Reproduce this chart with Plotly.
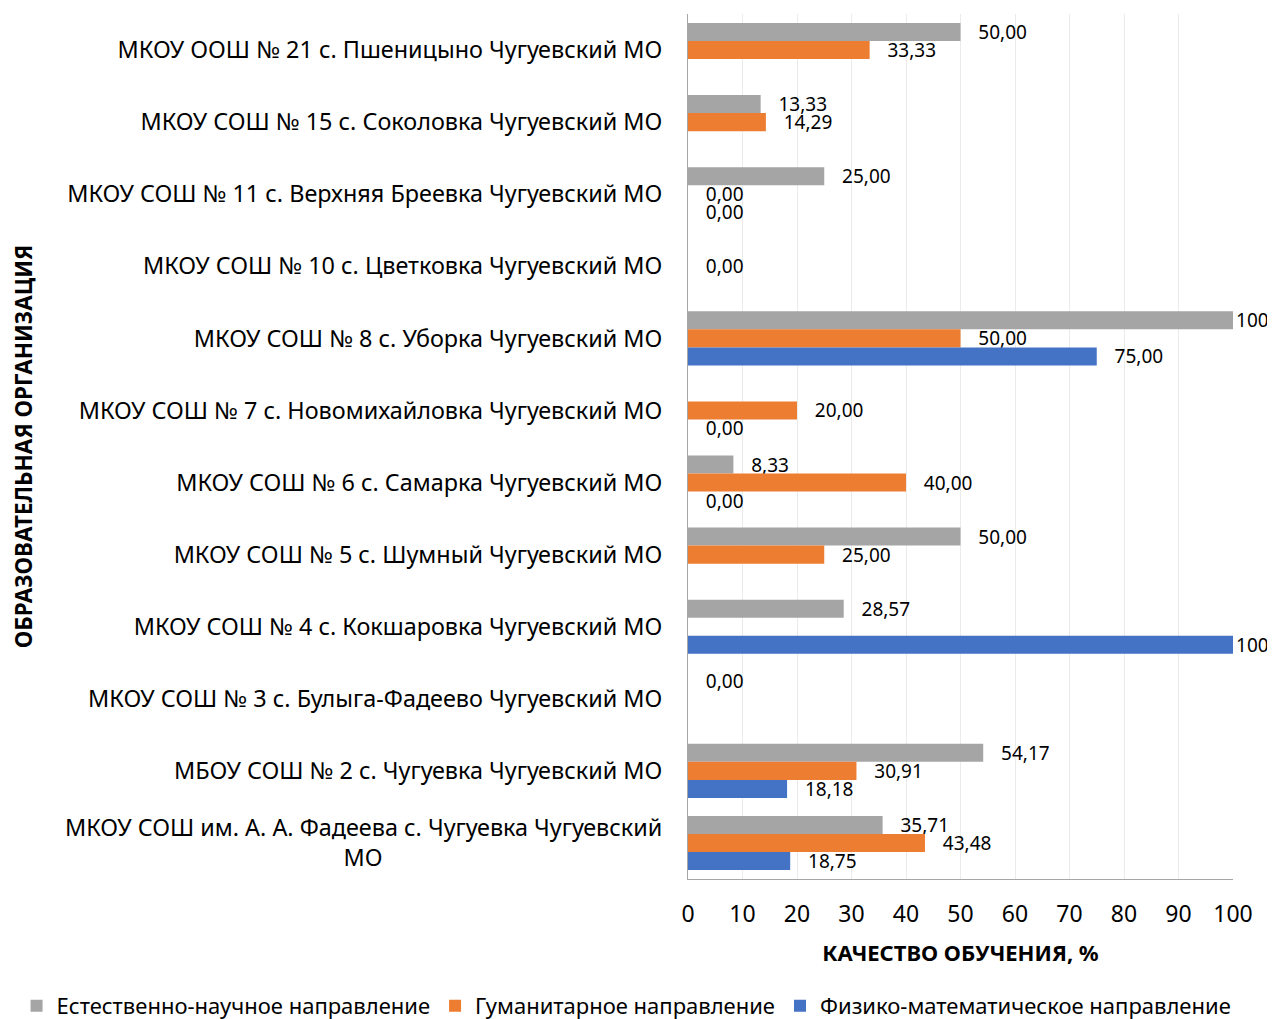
import plotly.graph_objects as go

NBSP = "\u00a0"

categories = [
    "МКОУ ООШ № 21 с. Пшеницыно Чугуевский МО",
    "МКОУ СОШ № 15 с. Соколовка Чугуевский МО",
    "МКОУ СОШ № 11 с. Верхняя Бреевка Чугуевский МО",
    "МКОУ СОШ № 10 с. Цветковка Чугуевский МО",
    "МКОУ СОШ № 8 с. Уборка Чугуевский МО",
    "МКОУ СОШ № 7 с. Новомихайловка Чугуевский МО",
    "МКОУ СОШ № 6 с. Самарка Чугуевский МО",
    "МКОУ СОШ № 5 с. Шумный Чугуевский МО",
    "МКОУ СОШ № 4 с. Кокшаровка Чугуевский МО",
    "МКОУ СОШ № 3 с. Булыга-Фадеево Чугуевский МО",
    "МБОУ СОШ № 2 с. Чугуевка Чугуевский МО",
    "МКОУ СОШ им. А. А. Фадеева с. Чугуевка Чугуевский<br>МО" + NBSP * 46,
]

natural = [50.00, 13.33, 25.00, None, 100, None, 8.33, 50.00, 28.57, 0.00, 54.17, 35.71]
humanit = [33.33, 14.29, 0.00, 0.00, 50.00, 20.00, 40.00, 25.00, None, None, 30.91, 43.48]
physmath = [None, None, 0.00, None, 75.00, 0.00, 0.00, None, 100, None, 18.18, 18.75]

series_names = [
    "Естественно-научное направление",
    "Гуманитарное направление",
    "Физико-математическое направление",
]
colors = ["#a5a5a5", "#ed7d31", "#4472c4"]


def fmt(v):
    if v is None:
        return ""
    if v == 100:
        return "100"
    return NBSP * 3 + f"{v:.2f}".replace(".", ",")


FONT = "Noto Sans"

fig = go.Figure()
for name, vals, col in zip(series_names, [natural, humanit, physmath], colors):
    fig.add_trace(go.Bar(
        y=categories,
        x=vals,
        name=name,
        orientation="h",
        marker=dict(color=col, line=dict(width=0)),
        text=[fmt(v) for v in vals],
        textposition="outside",
        textfont=dict(family=FONT, size=19, color="#000000"),
        constraintext="none",
        cliponaxis=False,
    ))

# page body has an 8px margin: figure is sized/offset to compensate
fig.update_layout(
    width=1267,
    height=1011,
    barmode="group",
    bargap=0.25,
    bargroupgap=0,
    paper_bgcolor="white",
    plot_bgcolor="white",
    font=dict(family=FONT, color="#000000"),
    margin=dict(l=680, r=42, t=6, b=140, autoexpand=False),
    showlegend=True,
    legend=dict(
        orientation="h",
        xref="paper", yref="paper",
        x=-1.232, xanchor="left",
        y=-0.1468, yanchor="middle",
        font=dict(family=FONT, size=22, color="#000000"),
        traceorder="normal",
        itemwidth=30,
    ),
    xaxis=dict(
        range=[0, 100],
        dtick=10,
        automargin=True,
        showgrid=True,
        gridcolor="#ebebeb",
        gridwidth=1,
        zeroline=False,
        showline=True,
        linecolor="#a6a6a6",
        linewidth=1,
        ticks="",
        tickfont=dict(family=FONT, size=23, color="#000000"),
        ticklabelstandoff=14,
        title=dict(text="<b>КАЧЕСТВО ОБУЧЕНИЯ, %</b>",
                   font=dict(family=FONT, size=22, color="#000000"),
                   standoff=18),
    ),
    yaxis=dict(
        autorange="reversed",
        automargin=False,
        showgrid=False,
        showline=True,
        linecolor="#a6a6a6",
        linewidth=1,
        ticks="",
        tickfont=dict(family=FONT, size=23.4, color="#000000"),
        ticklabelstandoff=20,
        title=dict(text="<b>ОБРАЗОВАТЕЛЬНАЯ ОРГАНИЗАЦИЯ</b>",
                   font=dict(family=FONT, size=22.5, color="#000000"),
                   standoff=27),
    ),
)

fig.write_html("out.html")
